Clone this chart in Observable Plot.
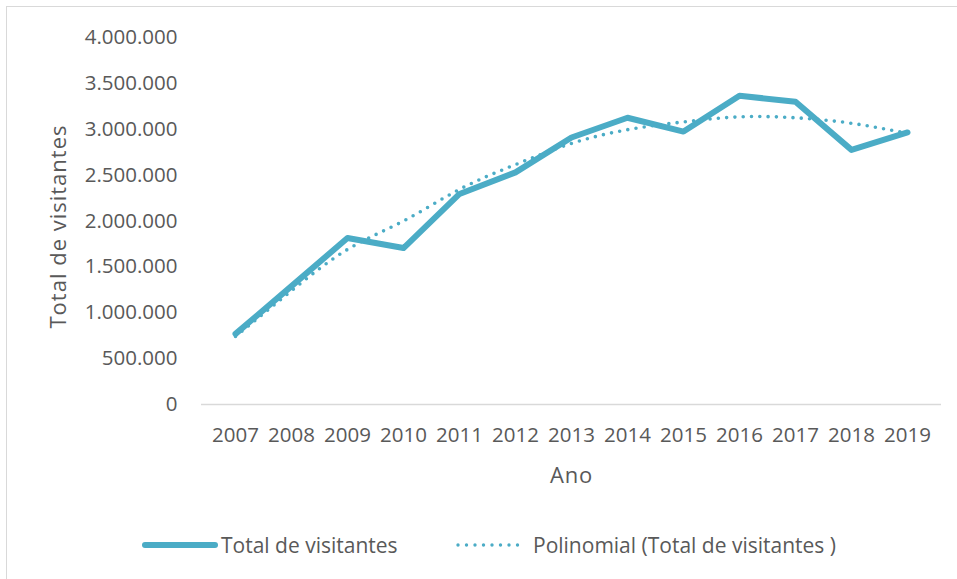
<!DOCTYPE html>
<html>
<head>
<meta charset="utf-8">
<script src="https://cdn.jsdelivr.net/npm/d3@7"></script>
<script src="https://cdn.jsdelivr.net/npm/@observablehq/plot@0.6"></script>
<style>
  html, body { margin: 0; padding: 0; background: #fff; overflow: hidden; width: 957px; height: 579px; }
  #wrap { position: relative; width: 957px; height: 579px; font-family: "Open Sans", sans-serif; color: #595959; }
  #frame { position: absolute; left: 6px; top: 6px; width: 1100px; height: 800px; border: 1.5px solid #d9d9d9; box-sizing: border-box; }
  #chart { position: absolute; left: 0; top: 0; }
  #legend { position: absolute; left: 0; top: 500px; width: 957px; height: 79px; font-size: 21px; }
  .item { position: absolute; top: 45px; transform: translateY(-50%); display: flex; align-items: center; white-space: nowrap; }
  .item svg { display: block; }
</style>
</head>
<body>
<div id="wrap">
  <div id="frame"></div>
  <div id="chart"></div>
  <div id="legend"></div>
</div>
<script>
const years = [2007, 2008, 2009, 2010, 2011, 2012, 2013, 2014, 2015, 2016, 2017, 2018, 2019];
const visitors = [770000, 1290000, 1815000, 1705000, 2295000, 2530000, 2910000, 3125000, 2975000, 3365000, 3300000, 2775000, 2965000];
const trendValues = [741000, 1240000, 1690000, 2000000, 2345000, 2615000, 2845000, 2995000, 3080000, 3135000, 3125000, 3065000, 2955000];
const yTicks = [0, 500000, 1000000, 1500000, 2000000, 2500000, 3000000, 3500000, 4000000];
const seriesNames = ["Total de visitantes", "Polinomial (Total de visitantes )"];
const xTitle = "Ano";
const yTitle = "Total de visitantes";

const color = "#4BACC6";
const ptBR = d3.formatLocale({decimal: ",", thousands: ".", grouping: [3], currency: ["R$", ""]});
const fmt = ptBR.format(",d");

const actual = years.map((y, i) => ({year: y, value: visitors[i]}));
const trend = years.map((y, i) => ({year: y, value: trendValues[i]}));

const chart = Plot.plot({
  width: 957,
  height: 500,
  marginLeft: 201,
  marginRight: 16,
  marginTop: 37,
  marginBottom: 96,
  style: {fontFamily: "Open Sans, sans-serif", fontSize: "20.5px", color: "#595959", background: "transparent"},
  x: {type: "point", domain: years, padding: 0.5},
  y: {domain: [0, 4000000]},
  marks: [
    Plot.axisY({ticks: yTicks, tickSize: 0, tickPadding: 24, tickFormat: fmt, label: null}),
    Plot.axisX({tickSize: 0, tickPadding: 23, tickFormat: d => String(d), label: null}),
    Plot.ruleY([0], {stroke: "#d9d9d9", strokeWidth: 1.5}),
    Plot.line(actual, {x: "year", y: "value", stroke: color, strokeWidth: 6, strokeLinejoin: "round", strokeLinecap: "round"}),
    Plot.line(trend, {x: "year", y: "value", curve: "natural", stroke: color, strokeWidth: 3.6, strokeDasharray: "0 8.3", strokeLinecap: "round"}),
    Plot.text([xTitle], {frameAnchor: "bottom", textAnchor: "middle", lineAnchor: "middle", dy: 71, fontSize: 22, fill: "#595959"}),
    Plot.text([yTitle], {frameAnchor: "left", textAnchor: "middle", lineAnchor: "middle", rotate: -90, dx: -143, dy: 5.5, fontSize: 22, fill: "#595959"})
  ]
});
document.getElementById("chart").appendChild(chart);
chart.querySelectorAll("text").forEach(t => {
  if (t.textContent === yTitle) t.setAttribute("letter-spacing", "1");
  if (t.textContent === xTitle) t.setAttribute("letter-spacing", "0.8");
});

const legend = document.getElementById("legend");
function addItem(left, dashed, label) {
  const item = document.createElement("div");
  item.className = "item";
  item.style.left = left + "px";
  const svg = d3.create("svg").attr("width", dashed ? 74 : 76).attr("height", 10);
  if (dashed) {
    svg.append("line").attr("x1", 3).attr("x2", 71).attr("y1", 5).attr("y2", 5)
      .attr("stroke", color).attr("stroke-width", 3.4).attr("stroke-linecap", "round").attr("stroke-dasharray", "0 8.5");
  } else {
    svg.append("line").attr("x1", 3).attr("x2", 73).attr("y1", 5).attr("y2", 5)
      .attr("stroke", color).attr("stroke-width", 6).attr("stroke-linecap", "round");
  }
  item.appendChild(svg.node());
  const span = document.createElement("span");
  span.textContent = label;
  span.style.marginLeft = dashed ? "4px" : "3px";
  item.appendChild(span);
  legend.appendChild(item);
}
addItem(142, false, seriesNames[0]);
addItem(455, true, seriesNames[1]);
</script>
</body>
</html>
